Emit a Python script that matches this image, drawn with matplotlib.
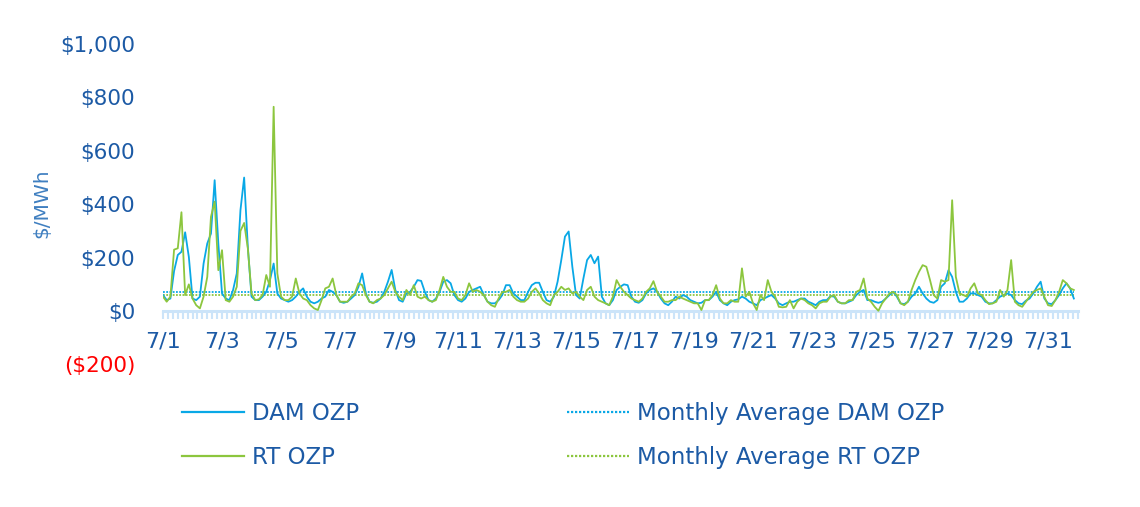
import numpy as np
import matplotlib
matplotlib.use("Agg")
import matplotlib.pyplot as plt

# July OZP prices, $/MWh, read every 3 hours (00, 03, ..., 21) for each day
dam_ozp = [
    60, 41, 47, 150, 210, 222, 295, 203,   # 7/1
    47, 41, 54, 178, 253, 290, 490, 253,
    66, 47, 41, 79, 141, 378, 500, 240,
    54, 41, 41, 54, 72, 116, 178, 66,
    47, 41, 35, 41, 54, 72, 85, 54,        # 7/5
    35, 29, 35, 47, 54, 79, 72, 60,
    35, 31, 35, 47, 60, 91, 141, 66,
    35, 31, 35, 47, 72, 110, 154, 79,
    41, 35, 66, 72, 91, 116, 113, 72,
    41, 35, 47, 72, 110, 116, 104, 60,     # 7/10
    41, 35, 47, 72, 79, 85, 91, 60,
    35, 29, 29, 41, 60, 97, 97, 66,
    54, 41, 41, 72, 97, 106, 106, 72,
    41, 35, 54, 110, 191, 279, 298, 166,
    60, 47, 122, 191, 210, 179, 204, 54,   # 7/15
    29, 22, 41, 79, 91, 100, 97, 54,
    35, 31, 41, 66, 79, 85, 72, 47,
    29, 22, 35, 54, 47, 60, 54, 41,
    35, 29, 31, 41, 41, 54, 72, 41,
    29, 22, 35, 41, 44, 54, 47, 35,        # 7/20
    29, 22, 41, 47, 54, 60, 47, 29,
    22, 29, 35, 35, 41, 47, 47, 35,
    29, 22, 35, 41, 41, 56, 54, 35,
    29, 29, 35, 41, 60, 72, 79, 41,
    41, 35, 31, 35, 47, 60, 72, 54,        # 7/25
    29, 26, 35, 54, 66, 91, 66, 47,
    35, 31, 41, 91, 104, 153, 128, 72,
    35, 35, 47, 66, 66, 60, 54, 35,
    29, 29, 41, 54, 60, 66, 60, 41,
    29, 26, 39, 47, 66, 91, 110, 47,       # 7/30
    29, 26, 41, 60, 85, 104, 85, 47,
]

rt_ozp = [
    54, 35, 54, 230, 235, 370, 60, 100,    # 7/1
    47, 22, 10, 54, 128, 353, 410, 153,
    228, 41, 35, 54, 91, 300, 330, 235,
    66, 41, 44, 60, 135, 91, 765, 141,
    54, 41, 41, 54, 122, 66, 47, 41,       # 7/5
    22, 10, 4, 41, 85, 91, 122, 60,
    35, 35, 35, 54, 66, 104, 97, 60,
    35, 29, 41, 47, 60, 85, 110, 72,
    54, 41, 79, 60, 97, 54, 47, 54,
    41, 35, 41, 79, 128, 91, 72, 72,       # 7/10
    47, 41, 60, 104, 72, 79, 72, 60,
    35, 22, 16, 47, 72, 72, 79, 54,
    41, 35, 35, 47, 72, 85, 66, 41,
    29, 22, 60, 72, 91, 79, 85, 66,
    72, 54, 41, 79, 91, 54, 41, 35,        # 7/15
    29, 22, 54, 116, 91, 72, 60, 47,
    41, 35, 47, 72, 85, 112, 72, 54,
    35, 35, 41, 41, 54, 47, 41, 35,
    29, 29, 4, 41, 41, 60, 97, 47,
    29, 29, 41, 35, 35, 160, 54, 72,       # 7/20
    29, 4, 60, 41, 116, 72, 54, 16,
    14, 16, 41, 10, 35, 47, 41, 29,
    22, 10, 29, 35, 35, 54, 60, 35,
    29, 29, 41, 41, 72, 79, 122, 47,
    35, 16, 1, 29, 47, 66, 72, 60,         # 7/25
    29, 22, 35, 79, 116, 147, 172, 166,
    116, 60, 47, 116, 110, 116, 415, 128,
    66, 60, 54, 85, 104, 66, 60, 41,
    26, 29, 35, 79, 54, 79, 191, 35,
    22, 16, 35, 54, 72, 79, 85, 54,        # 7/30
    22, 19, 41, 72, 116, 104, 85, 79,
]

avg_dam = 72
avg_rt = 61

y_ticks = [-200, 0, 200, 400, 600, 800, 1000]
y_labels = ["($200)", "$0", "$200", "$400", "$600", "$800", "$1,000"]
day_labels = ["7/%d" % d for d in range(1, 32, 2)]

BLUE = "#09A8E6"
GREEN = "#8CC63E"
TEXT = "#1C5AA5"

plt.rcParams["font.family"] = ["DejaVu Sans"]

hours = np.arange(len(dam_ozp)) * 3

fig = plt.figure(figsize=(11.4, 5.07), dpi=100)
ax = fig.add_axes([0.1430, 0.2811, 0.8022, 0.6321])

ax.plot(hours, dam_ozp, color=BLUE, lw=1.3, label="DAM OZP", zorder=3)
ax.plot(hours, rt_ozp, color=GREEN, lw=1.3, label="RT OZP", zorder=4)
ax.plot(hours, np.full(len(hours), avg_dam), color=BLUE, lw=1.3,
        linestyle=(0, (1, 0.8)), label="Monthly Average DAM OZP", zorder=2)
ax.plot(hours, np.full(len(hours), avg_rt), color=GREEN, lw=1.3,
        linestyle=(0, (1, 0.8)), label="Monthly Average RT OZP", zorder=2)

ax.set_xlim(0, 744)
ax.set_ylim(-200, 1000)

for side in ["top", "right", "left"]:
    ax.spines[side].set_visible(False)
ax.spines["bottom"].set_position(("data", 0))
ax.spines["bottom"].set_color("#CCE4F9")
ax.spines["bottom"].set_linewidth(2.2)

ax.set_xticks(np.arange(0, 721, 48))
ax.set_xticklabels(day_labels)
ax.set_xticks(np.arange(0, 745, 4), minor=True)
ax.tick_params(axis="x", which="both", direction="out", length=5.5, width=1.5,
               color="#CCE4F9")
ax.tick_params(axis="x", which="major", labelsize=16, labelcolor=TEXT, pad=9.5)

ax.set_yticks(y_ticks)
ax.set_yticklabels(y_labels)
ax.tick_params(axis="y", length=0, labelsize=15.5, labelcolor=TEXT, pad=20)
ax.get_yticklabels()[0].set_color("#FF0000")

fig.text(42 / 1140, 1 - 203 / 507, "$/MWh", rotation=90, ha="center",
         va="center", fontsize=14.5, color="#3F7FC0")

h, l = ax.get_legend_handles_labels()
for idx, x0 in [((0, 1), 182), ((2, 3), 567)]:
    leg = fig.legend([h[i] for i in idx], [l[i] for i in idx],
                     loc="center left", bbox_to_anchor=(x0 / 1140, 1 - 435.5 / 507),
                     frameon=False, fontsize=16.5, handlelength=2.7,
                     handletextpad=0.35, labelspacing=0.9, borderpad=0,
                     borderaxespad=0)
    for t in leg.get_texts():
        t.set_color(TEXT)
    for ln in leg.get_lines():
        ln.set_linewidth(1.6)

fig.savefig("out.png", dpi=100)
